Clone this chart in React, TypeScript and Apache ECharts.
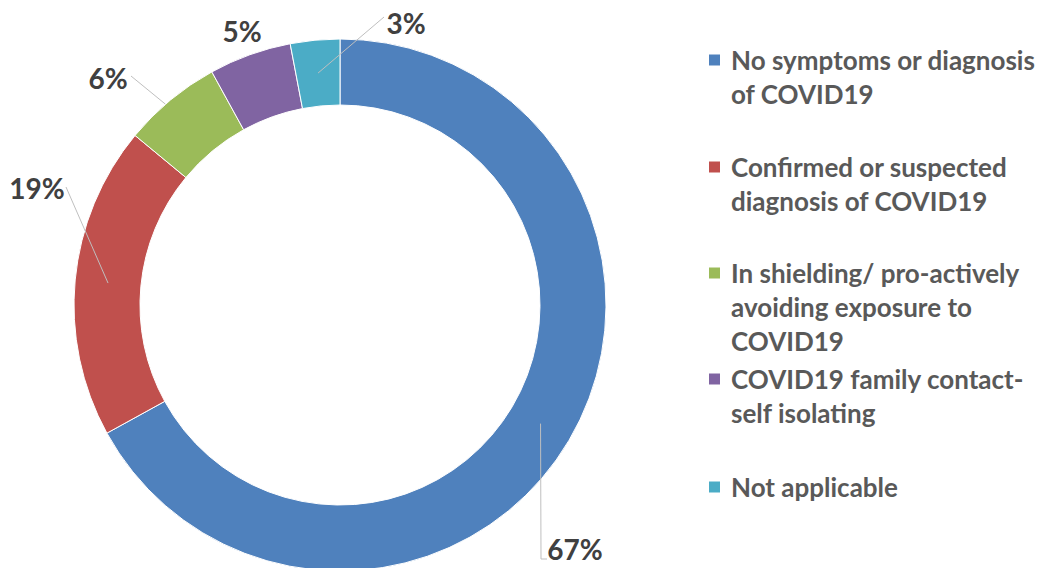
import React, { useEffect, useRef } from "react";
import * as echarts from "echarts";

const categories = [
  "No symptoms or diagnosis of COVID19",
  "Confirmed or suspected diagnosis of COVID19",
  "In shielding/ pro-actively avoiding exposure to COVID19",
  "COVID19 family contact-self isolating",
  "Not applicable",
];
const legendLines = [
  ["No symptoms or diagnosis", "of COVID19"],
  ["Confirmed or suspected", "diagnosis of COVID19"],
  ["In shielding/ pro-actively", "avoiding exposure to", "COVID19"],
  ["COVID19 family contact-", "self isolating"],
  ["Not applicable"],
];
const values = [67, 19, 6, 5, 3];
const colors = ["#4F81BD", "#C0504D", "#9BBB59", "#8064A2", "#4BACC6"];

// layout (pixels)
const CX = 340;
const CY = 305;
const R_IN = 200;
const R_OUT = 266;
const FONT = "Lato";
const LINE_H = 34;
const legendMarkerY = [60, 167, 273, 379, 487];
const labelCenters = [
  [575, 549],
  [37, 188],
  [108, 78],
  [242, 31],
  [406, 23],
];
// points of each leader line on the label side (null = no line)
const labelSidePoints: (number[][] | null)[] = [
  [[541, 559], [547, 559]],
  [[66, 187]],
  [[131, 76]],
  null,
  [[384, 17]],
];
const clipAtOuter = [false, false, true, false, false];

function midRingPoint(i: number) {
  const total = values.reduce((a, b) => a + b, 0);
  let cum = 0;
  for (let k = 0; k < i; k++) cum += values[k];
  const th = (2 * Math.PI * (cum + values[i] / 2)) / total;
  const r = (R_IN + R_OUT) / 2;
  return [CX + r * Math.sin(th), CY - r * Math.cos(th)];
}

function clipToOuter(s: number[], t: number[]) {
  let lo = 0;
  let hi = 1;
  for (let k = 0; k < 40; k++) {
    const m = (lo + hi) / 2;
    const x = s[0] + (t[0] - s[0]) * m;
    const y = s[1] + (t[1] - s[1]) * m;
    const d = Math.hypot(x - CX, y - CY);
    if (d > R_OUT) lo = m;
    else hi = m;
  }
  return [s[0] + (t[0] - s[0]) * lo, s[1] + (t[1] - s[1]) * lo];
}

export default function App() {
  const ref = useRef<HTMLDivElement>(null);
  useEffect(() => {
    if (!ref.current) return;
    const chart = echarts.init(ref.current, undefined, { renderer: "svg" });
    const pieData = categories.map((name, i) => ({ name, value: values[i] }));
    const option: any = {
      animation: false,
      backgroundColor: "#ffffff",
      color: colors,
      legend: legendLines.map((lines, i) => {
        const n = lines.length;
        return {
          data: [categories[i]],
          orient: "vertical",
          left: 709,
          top: legendMarkerY[i] - ((2 * n - 1) * LINE_H) / 2,
          padding: 0,
          icon: "rect",
          itemWidth: 11,
          itemHeight: 11,
          selectedMode: false,
          itemStyle: { borderWidth: 0 },
          formatter: () => "\n".repeat(n - 1) + lines.join("\n"),
          textStyle: {
            fontFamily: FONT,
            fontWeight: "bold",
            fontSize: 26,
            color: "#595959",
            lineHeight: LINE_H,
            padding: [0, 0, 0, 6],
            backgroundColor: "rgba(0,0,0,0)",
          },
        };
      }),
      series: [
        {
          type: "pie",
          z: 2,
          center: [CX, CY],
          radius: [R_IN, R_OUT],
          startAngle: 90,
          clockwise: true,
          avoidLabelOverlap: false,
          itemStyle: { borderColor: "#ffffff", borderWidth: 1 },
          label: { show: false },
          labelLine: { show: false },
          data: pieData,
        },
        {
          type: "pie",
          z: 3,
          silent: true,
          center: [CX, CY],
          radius: [R_IN, R_OUT],
          startAngle: 90,
          clockwise: true,
          avoidLabelOverlap: false,
          itemStyle: { color: "rgba(0,0,0,0)", borderWidth: 0 },
          label: {
            show: true,
            position: "outside",
            formatter: "{c}%",
            fontFamily: FONT,
            fontWeight: "bold",
            fontSize: 28,
            color: "#404040",
          },
          labelLine: {
            show: true,
            lineStyle: { color: "#BFBFBF", width: 1 },
          },
          labelLayout: (p: any) => {
            const i = p.dataIndex;
            const c = labelCenters[i];
            const res: any = {
              x: c[0],
              y: c[1],
              align: "center",
              verticalAlign: "middle",
            };
            const side = labelSidePoints[i];
            if (side) {
              const mid = midRingPoint(i);
              const start = clipAtOuter[i] ? clipToOuter(side[0], mid) : mid;
              const pts = [start, ...side];
              while (pts.length < 3) pts.push(pts[pts.length - 1]);
              res.labelLinePoints = pts;
            }
            return res;
          },
          data: pieData.map((d, i) => ({
            ...d,
            labelLine: { show: labelSidePoints[i] !== null },
          })),
        },
      ],
    };
    chart.setOption(option);
    return () => chart.dispose();
  }, []);
  return (
    <div
      ref={ref}
      style={{ position: "fixed", left: 0, top: 0, width: 1039, height: 568 }}
    />
  );
}
